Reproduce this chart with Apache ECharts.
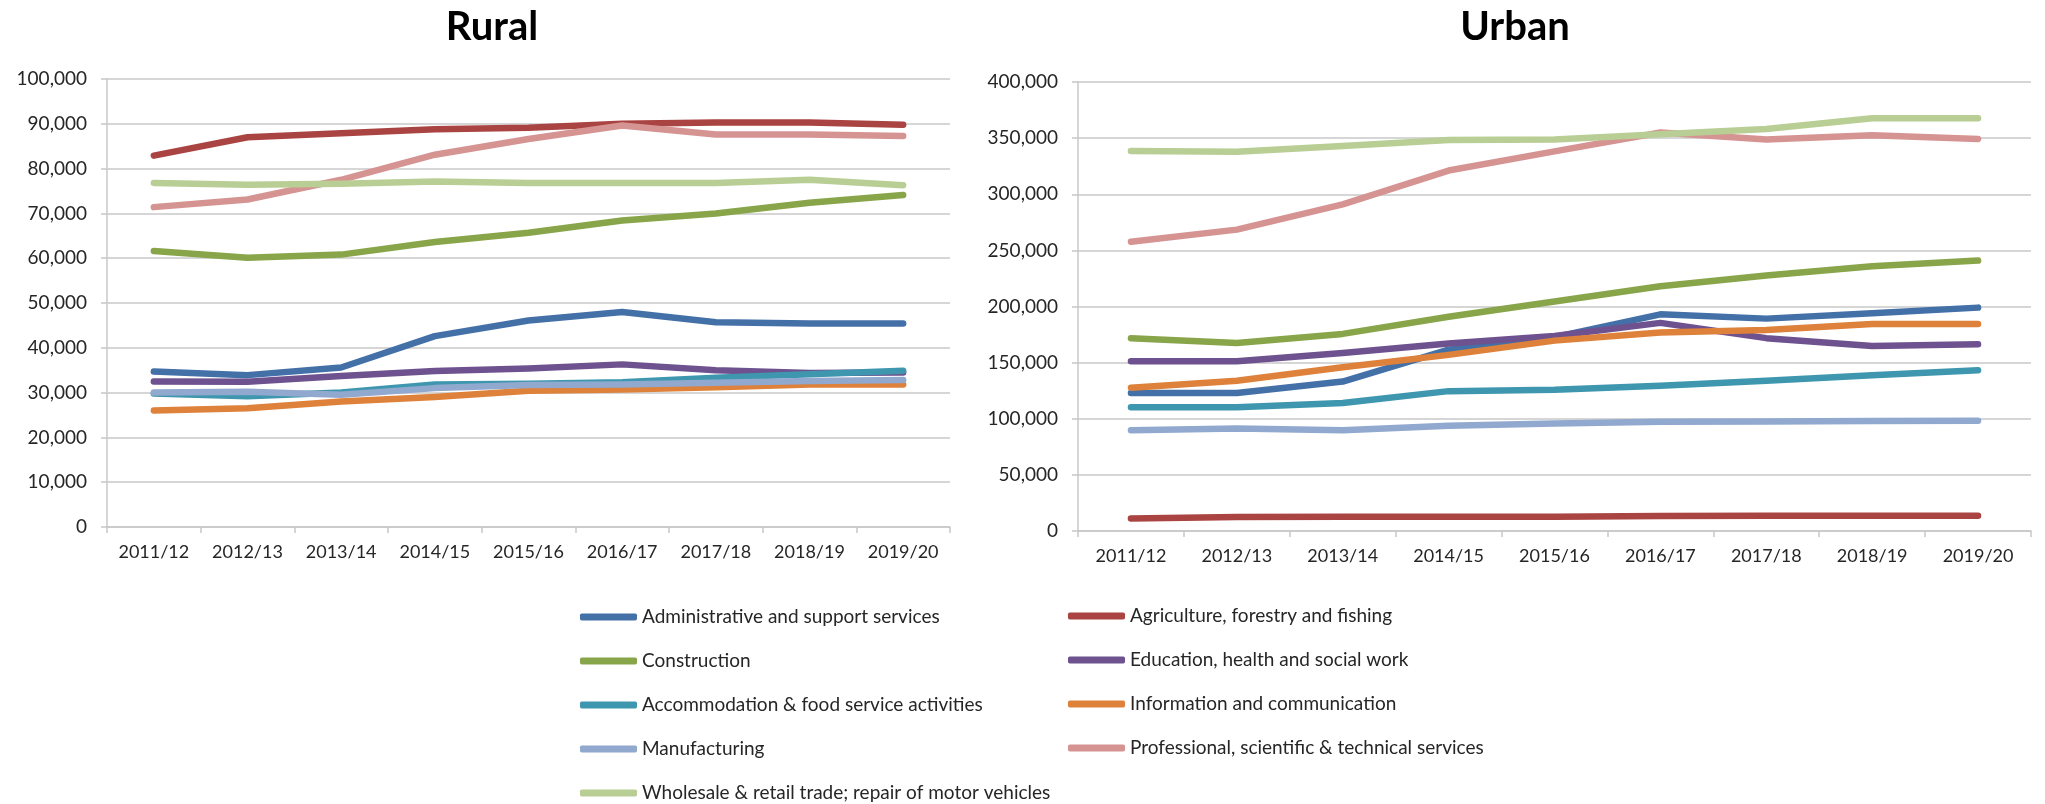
<!DOCTYPE html>
<html>
<head>
<meta charset="utf-8">
<script src="https://cdn.jsdelivr.net/npm/echarts@6/dist/echarts.min.js"></script>
<style>html,body{margin:0;padding:0;background:#fff;}#c{width:2045px;height:804px;}</style>
</head>
<body>
<div id="c"></div>
<script>
const categories = ['2011/12','2012/13','2013/14','2014/15','2015/16','2016/17','2017/18','2018/19','2019/20'];
const seriesNames = [
  'Administrative and support services',
  'Agriculture, forestry and fishing',
  'Construction',
  'Education, health and social work',
  'Accommodation & food service activities',
  'Information and communication',
  'Manufacturing',
  'Professional, scientific & technical services',
  'Wholesale & retail trade; repair of motor vehicles'
];
const seriesColors = ['#4470A8','#A94442','#88A54A','#6E528F','#3E97AE','#DE813A','#91A8CF','#D59392','#B8CE94'];

// Rural
const ruralAdmin   = [34700,33900,35600,42600,46100,48000,45700,45400,45400];
const ruralAgri    = [82900,87000,87900,88800,89100,90000,90300,90300,89800];
const ruralConstr  = [61600,60100,60800,63600,65700,68400,70000,72400,74100];
const ruralEdu     = [32500,32400,33700,34800,35400,36300,35000,34400,34500];
const ruralAccom   = [29800,29200,30000,31800,32000,32300,33300,34100,34900];
const ruralInfo    = [26000,26500,28000,29000,30400,30700,31200,31800,31800];
const ruralManuf   = [30000,30200,29500,31000,31700,31800,32200,32600,32800];
const ruralProf    = [71400,73100,77500,83100,86600,89600,87600,87600,87300];
const ruralWhole   = [76800,76400,76600,77100,76800,76800,76800,77500,76300];

// Urban
const urbanAdmin   = [123000,123000,133100,161600,172700,193000,189200,194000,199000];
const urbanAgri    = [11100,12400,12700,12700,12700,13300,13600,13600,13600];
const urbanConstr  = [171800,167400,175600,190800,204400,218100,227600,235800,240900];
const urbanEdu     = [151200,151200,158500,167000,173700,185400,171800,164800,166400];
const urbanAccom   = [110300,110300,114100,124600,125800,129300,133800,138800,143300];
const urbanInfo    = [127700,133800,145800,156900,169600,176900,179100,184500,184500];
const urbanManuf   = [89700,91300,89700,93800,95700,97300,97600,97900,98300];
const urbanProf    = [257700,268500,291000,321100,338200,355000,348700,352500,349300];
const urbanWhole   = [338500,337900,342900,348300,348700,353400,358200,367700,367700];

const ruralData = [ruralAdmin, ruralAgri, ruralConstr, ruralEdu, ruralAccom, ruralInfo, ruralManuf, ruralProf, ruralWhole];
const urbanData = [urbanAdmin, urbanAgri, urbanConstr, urbanEdu, urbanAccom, urbanInfo, urbanManuf, urbanProf, urbanWhole];

const FONT = 'Lato, "Liberation Sans", sans-serif';
const gridColor = '#C8C8C8';
const textColor = '#262626';
const fmt = v => v.toLocaleString('en-US');

function xAxis(gridIndex) {
  return {
    type: 'category', gridIndex, data: categories, boundaryGap: true,
    axisLine: { show: true, lineStyle: { color: gridColor, width: 1.5 } },
    axisTick: { show: true, length: 6, lineStyle: { color: gridColor, width: 1.5 } },
    axisLabel: { color: textColor, fontFamily: FONT, fontSize: 18, margin: 16 },
    splitLine: { show: false }
  };
}
function yAxis(gridIndex, max, interval) {
  return {
    type: 'value', gridIndex, min: 0, max, interval,
    axisLine: { show: true, lineStyle: { color: gridColor, width: 1.5 } },
    axisTick: { show: true, length: 6, lineStyle: { color: gridColor, width: 1.5 } },
    axisLabel: { color: textColor, fontFamily: FONT, fontSize: 19, margin: 20, formatter: fmt },
    splitLine: { show: true, lineStyle: { color: gridColor, width: 1.5 } }
  };
}

const series = [];
seriesNames.forEach((name, i) => {
  [ruralData, urbanData].forEach((set, g) => {
    series.push({
      name, type: 'line', xAxisIndex: g, yAxisIndex: g,
      data: set[i], symbol: 'none', smooth: false,
      lineStyle: { color: seriesColors[i], width: 6.5, cap: 'round', join: 'round' },
      itemStyle: { color: seriesColors[i] },
      emphasis: { disabled: true }
    });
  });
});

const legendCommon = {
  orient: 'vertical', icon: 'roundRect', itemWidth: 57, itemHeight: 7,
  itemGap: 22, padding: 0, height: 260, width: 700,
  textStyle: { color: textColor, fontFamily: FONT, fontSize: 19, lineHeight: 22 },
  selectedMode: false
};

const option = {
  animation: false,
  backgroundColor: '#ffffff',
  color: seriesColors,
  title: [
    { text: 'Rural', left: 487, top: 2, textAlign: 'center',
      textStyle: { fontFamily: FONT, fontWeight: 'bold', fontSize: 40, color: '#000' } },
    { text: 'Urban', left: 1510, top: 2, textAlign: 'center',
      textStyle: { fontFamily: FONT, fontWeight: 'bold', fontSize: 40, color: '#000' } }
  ],
  grid: [
    { left: 107, right: 2045 - 950, top: 79, height: 448, containLabel: false },
    { left: 1078, right: 2045 - 2031, top: 82, height: 449, containLabel: false }
  ],
  xAxis: [xAxis(0), xAxis(1)],
  yAxis: [yAxis(0, 100000, 10000), yAxis(1, 400000, 50000)],
  legend: [
    Object.assign({}, legendCommon, { left: 580, top: 606,
      data: [seriesNames[0], seriesNames[2], seriesNames[4], seriesNames[6], seriesNames[8]] }),
    Object.assign({}, legendCommon, { left: 1068, top: 605,
      data: [seriesNames[1], seriesNames[3], seriesNames[5], seriesNames[7]] })
  ],
  series
};

const chart = echarts.init(document.getElementById('c'), null, { renderer: 'canvas' });
chart.setOption(option);
</script>
</body>
</html>
